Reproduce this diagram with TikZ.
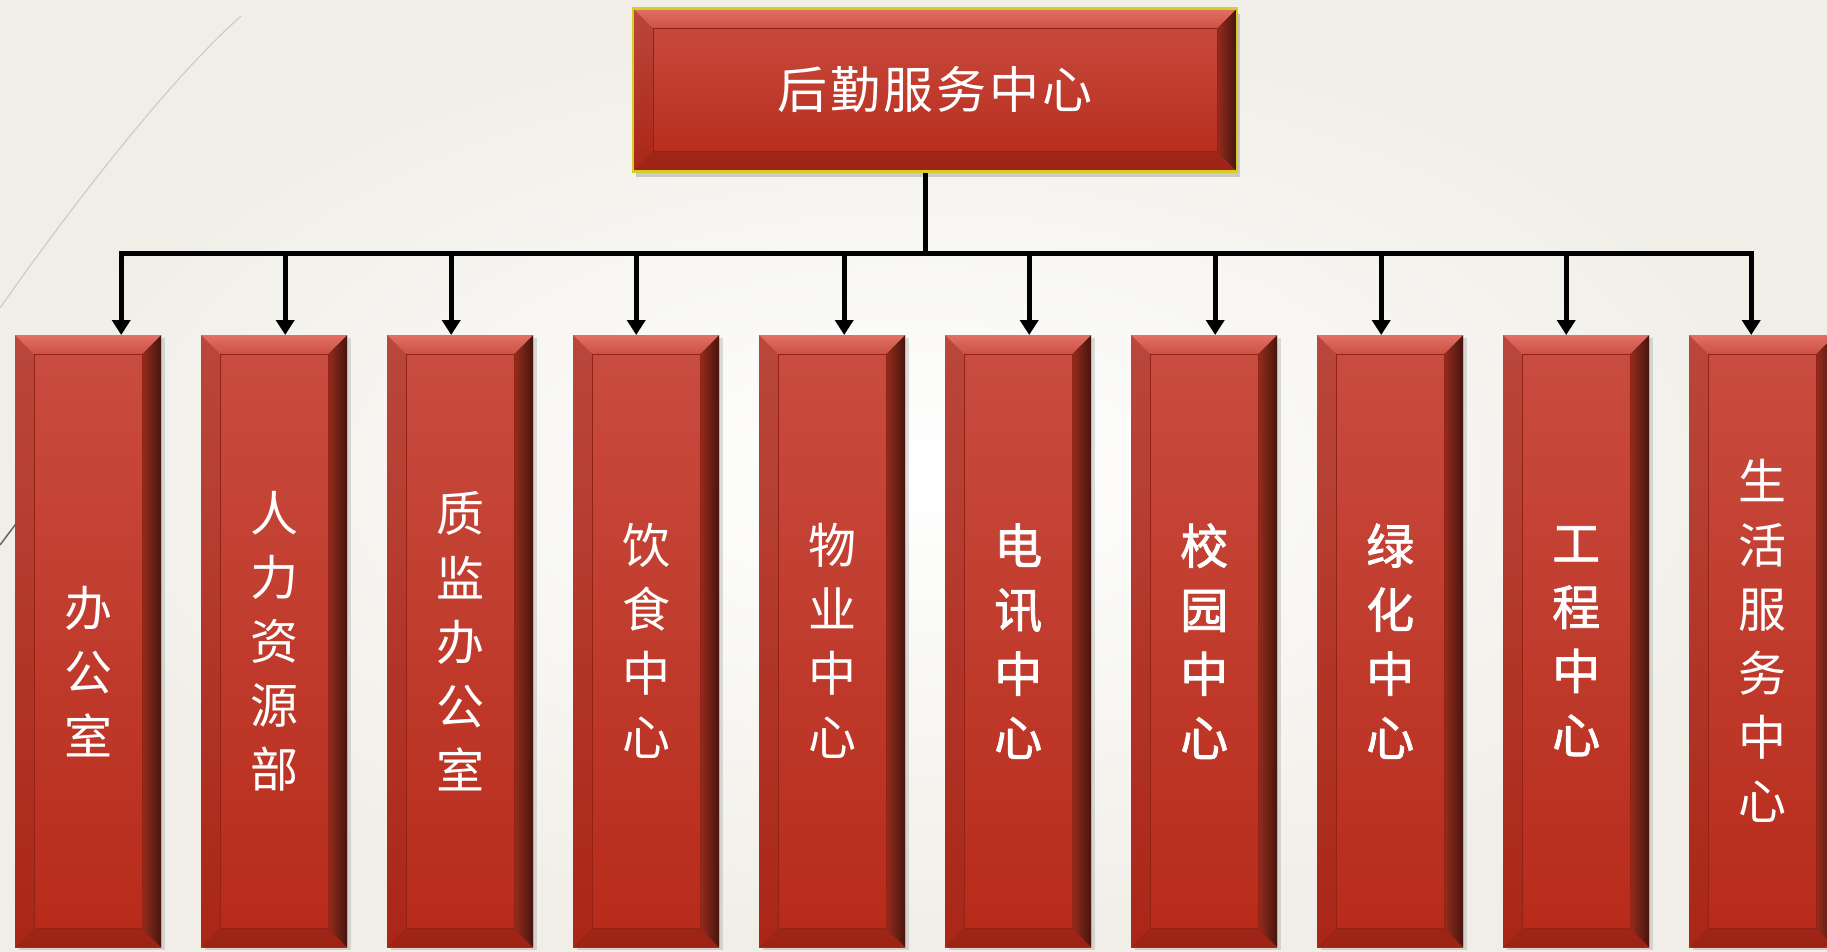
\documentclass[tikz,border=0pt]{standalone}
\usepackage{fontspec}
\newfontfamily\cjk{Noto Sans CJK SC}
\newfontfamily\cjkheavy[FakeBold=1.6]{Noto Sans CJK SC}
\usetikzlibrary{calc,arrows.meta,shadows}

\definecolor{boxtop}{RGB}{201,77,65}
\definecolor{boxbot}{RGB}{183,42,25}
\definecolor{bevlight}{RGB}{226,112,100}
\definecolor{bevmid}{RGB}{150,44,30}
\definecolor{bevdark}{RGB}{70,20,13}
\definecolor{rimgold}{RGB}{214,204,40}
\definecolor{paper}{RGB}{240,238,231}

\tikzset{
  bevel/.style={path picture={
    \path (path picture bounding box.north west) coordinate (pnw)
          (path picture bounding box.south east) coordinate (pse);
    \shade[top color=bevlight,bottom color=boxtop!90!bevlight] (pnw) -- (pnw -| pse)
      -- ($(pnw -| pse)+(-#1,#1)$) -- ($(pnw)+(#1,#1)$) -- cycle;
    \fill[black,opacity=.07] (pnw) -- ($(pnw)+(#1,#1)$)
      -- ($(pse -| pnw)+(#1,-#1)$) -- (pse -| pnw) -- cycle;
    \shade[left color=bevmid,right color=bevdark] (pnw -| pse) -- (pse)
      -- ($(pse)+(-#1,-#1)$) -- ($(pnw -| pse)+(-#1,#1)$) -- cycle;
    \fill[black,opacity=.14] (pse -| pnw) -- (pse)
      -- ($(pse)+(-#1,-#1)$) -- ($(pse -| pnw)+(#1,-#1)$) -- cycle;
    \draw[boxbot!80!black,line width=.8pt] ($(pnw)+(#1,#1)$) rectangle ($(pse)+(-#1,-#1)$);
  }},
  deptbox/.style={rectangle,anchor=north west,inner sep=0pt,
    minimum width=146pt,minimum height=612pt,
    top color=boxtop,bottom color=boxbot,bevel=19,
    drop shadow={shadow xshift=4pt,shadow yshift=-3pt,opacity=.25}},
  chiefbox/.style={rectangle,inner sep=0pt,draw=rimgold,line width=2.5pt,
    minimum width=604pt,minimum height=163pt,
    top color=boxtop,bottom color=boxbot,bevel=20,text=white,
    font=\cjk\fontsize{50}{60}\selectfont\addfontfeatures{LetterSpace=6},
    drop shadow={shadow xshift=3pt,shadow yshift=-6pt,opacity=.35}},
  deptlabel/.style={align=center,text=white,inner sep=0pt},
  link/.style={line width=5pt},
  feed/.style={line width=5pt,-{Triangle[width=18pt,length=15pt]}}
}

\begin{document}
\begin{tikzpicture}[x=1pt,y=-1pt]
  % Configurable parameters
  \def\pitch{186}
  \def\boxy{335}
  %
  % Background
  \useasboundingbox (0,0) rectangle (1827,952);
  \shade[inner color=white,outer color=paper] (0,0) rectangle (1827,952);
  \draw[black!20,line width=1.2pt] (241,16) .. controls (180,70) and (90,180) .. (0,308);
  \draw[black!60,line width=1.5pt] (30,505) -- (0,545);
  %
  % Top box
  \node[chiefbox] (top) at (935,90) {后勤服务中心};
  %
  % Department boxes
  \foreach \lbl/\dx/\dy/\fnt [count=\i] in {
      {办\\公\\室}/33/30/\cjk,
      {人\\力\\资\\源\\部}/11/0/\cjk,
      {质\\监\\办\\公\\室}/-9/0/\cjk,
      {饮\\食\\中\\心}/-10/0/\cjk,
      {物\\业\\中\\心}/12/0/\cjk,
      {电\\讯\\中\\心}/11/0/\cjkheavy,
      {校\\园\\中\\心}/11/0/\cjkheavy,
      {绿\\化\\中\\心}/-9/0/\cjkheavy,
      {工\\程\\中\\心}/-10/0/\cjkheavy,
      {生\\活\\服\\务\\中\\心}/-11/0/\cjk}{
    \node[deptbox] (b\i) at ({15+\pitch*(\i-1)},\boxy) {};
    \node[deptlabel,font=\fnt\fontsize{48}{64}\selectfont] (l\i)
      at ($(b\i.center)+(0,\dy)$) {\lbl};
    \coordinate (a\i) at ($(b\i.north)+(\dx,0)$);
  }
  %
  % Connectors
  \coordinate (bus) at (925,253);
  \draw[link] (top.south -| bus) -- (bus);
  \draw[link,{Triangle[width=18pt,length=15pt]}-{Triangle[width=18pt,length=15pt]}]
    (a1) |- (bus) -| (a10);
  \foreach \i in {2,...,9}
    \draw[feed] (a\i |- bus) -- (a\i);
  %
\end{tikzpicture}
\end{document}
